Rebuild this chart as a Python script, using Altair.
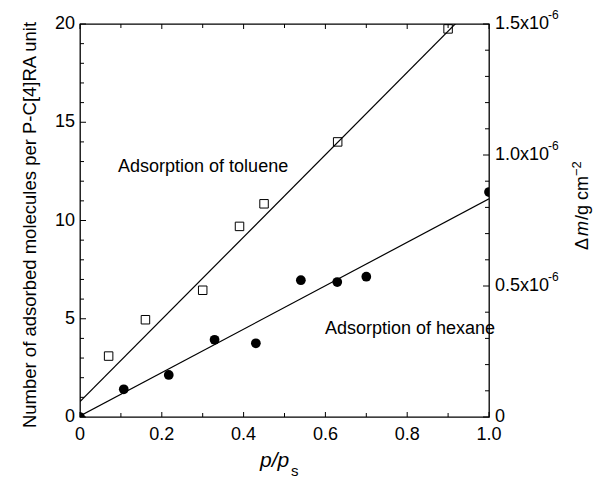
import altair as alt
import pandas as pd

# ---------------- data ----------------
tol_x = [0.07, 0.16, 0.30, 0.39, 0.45, 0.63, 0.90]
tol_y = [3.1, 4.95, 6.45, 9.7, 10.85, 14.0, 19.75]

hex_x = [0.0, 0.107, 0.217, 0.329, 0.430, 0.540, 0.629, 0.700, 1.0]
hex_y = [0.0, 1.41, 2.14, 3.93, 3.75, 6.96, 6.87, 7.14, 11.45]

fit_names = ["toluene", "hexane"]
fit_intercepts = [0.78, 0.05]
fit_slopes = [20.95, 11.05]
fit_x = [0.0, 1.0]

x_major = [0.0, 0.2, 0.4, 0.6, 0.8, 1.0]
x_labels = ["0", "0.2", "0.4", "0.6", "0.8", "1.0"]
x_minor = [0.1, 0.3, 0.5, 0.7, 0.9]
y_major = [0, 5, 10, 15, 20]
y_labels = ["0", "5", "10", "15", "20"]
y_minor = [1, 2, 3, 4, 6, 7, 8, 9, 11, 12, 13, 14, 16, 17, 18, 19]
r_major = [0.0, 0.5e-6, 1.0e-6, 1.5e-6]
r_labels = ["0", "0.5x10", "1.0x10", "1.5x10"]
r_exps = ["", "-6", "-6", "-6"]
r_minor = [0.1e-6, 0.2e-6, 0.3e-6, 0.4e-6, 0.6e-6, 0.7e-6, 0.8e-6, 0.9e-6,
           1.1e-6, 1.2e-6, 1.3e-6, 1.4e-6]

ann_text = ["Adsorption of toluene", "Adsorption of hexane"]
ann_x = [0.093, 0.599]
ann_y = [12.7, 4.5]

left_title = "Number of adsorbed molecules per P-C[4]RA unit"

# ---------------- layout ----------------
W, H = 409, 393
FONT = "Liberation Sans"

xs = alt.Scale(domain=[0, 1], nice=False, zero=False)
ys = alt.Scale(domain=[0, 20], nice=False, zero=False)
rs = alt.Scale(domain=[0, 1.5e-6], nice=False, zero=False)

pts_tol = pd.DataFrame({"x": tol_x, "y": tol_y})
pts_hex = pd.DataFrame({"x": hex_x, "y": hex_y})
fit_rows = []
for name, b, m in zip(fit_names, fit_intercepts, fit_slopes):
    for xv in fit_x:
        fit_rows.append({"series": name, "x": xv, "y": b + m * xv})
fit_df = pd.DataFrame(fit_rows)
ann_df = pd.DataFrame({"t": ann_text, "x": ann_x, "y": ann_y})


def X(field):
    return alt.X(field, scale=xs, axis=None)


def Y(field, scale=ys):
    return alt.Y(field, scale=scale, axis=None)


tol_layer = alt.Chart(pts_tol).mark_point(
    shape="square", size=72, filled=False, color="black", strokeWidth=1, opacity=1, clip=True
).encode(x=X("x:Q"), y=Y("y:Q"))

hex_layer = alt.Chart(pts_hex).mark_circle(
    size=95, color="black", opacity=1, clip=True
).encode(x=X("x:Q"), y=Y("y:Q"))

fit_layer = alt.Chart(fit_df).mark_line(
    color="black", strokeWidth=1.2, clip=True
).encode(x=X("x:Q"), y=Y("y:Q"), detail="series:N")

ann_layer = alt.Chart(ann_df).mark_text(
    align="left", baseline="middle", fontSize=18, font=FONT, color="black"
).encode(x=X("x:Q"), y=Y("y:Q"), text="t:N")


def yticks(values, scale, x0, x1):
    return alt.Chart(pd.DataFrame({"v": values})).mark_rule(
        color="black", strokeWidth=1
    ).encode(y=Y("v:Q", scale), x=alt.value(x0), x2=alt.value(x1))


def xticks(values, y0, y1):
    return alt.Chart(pd.DataFrame({"v": values})).mark_rule(
        color="black", strokeWidth=1
    ).encode(x=X("v:Q"), y=alt.value(y0), y2=alt.value(y1))


def label(text, x, y, size=20, style="normal", angle=0, align="left", baseline="alphabetic"):
    return alt.Chart(pd.DataFrame({"a": [0]})).mark_text(
        fontSize=size, font=FONT, fontStyle=style, color="black", angle=angle,
        align=align, baseline=baseline
    ).encode(x=alt.value(x), y=alt.value(y), text=alt.value(text))


x_tick_labels = alt.Chart(pd.DataFrame({"v": x_major, "t": x_labels})).mark_text(
    fontSize=18, font=FONT, color="black", align="center", baseline="top"
).encode(x=X("v:Q"), y=alt.value(H + 9), text="t:N")

y_tick_labels = alt.Chart(pd.DataFrame({"v": y_major, "t": y_labels})).mark_text(
    fontSize=18, font=FONT, color="black", align="right", baseline="middle"
).encode(y=Y("v:Q"), x=alt.value(-5), text="t:N")

left_group = alt.layer(
    fit_layer, tol_layer, hex_layer, ann_layer,
    yticks(y_major, ys, 0, 6), yticks(y_minor, ys, 0, 4),
    xticks(x_major, H, H - 5), xticks(x_minor, H, H - 4),
    xticks(x_major, 0, 5), xticks(x_minor, 0, 4),
    x_tick_labels, y_tick_labels,
    label(left_title, -50, 201, size=18.5, angle=270, align="center", baseline="middle"),
    label("p/p", 180, 443, size=21, style="italic"),
    label("s", 211, 452, size=15),
    label("Δ", 508, 226, size=18, angle=270),
    label("m", 508, 212, size=18, style="italic", angle=270),
    label("/g cm", 508, 196, size=18, angle=270),
    label("−2", 501, 152, size=13, angle=270),
)

r_df = pd.DataFrame({"v": r_major, "t": r_labels, "e": r_exps})
right_major = alt.Chart(r_df).mark_rule(color="black", strokeWidth=1).encode(
    y=Y("v:Q", rs), x=alt.value(W), x2=alt.value(W - 6))
right_minor = yticks(r_minor, rs, W, W - 4)
right_labels = alt.Chart(r_df).mark_text(
    fontSize=18, font=FONT, color="black", align="left", baseline="middle"
).encode(y=Y("v:Q", rs), x=alt.value(W + 6), text="t:N")
right_exps = alt.Chart(r_df).mark_text(
    fontSize=12, font=FONT, color="black", align="left", baseline="middle", dy=-9
).encode(y=Y("v:Q", rs), x=alt.value(W + 59), text="e:N")

right_group = alt.layer(right_major, right_minor, right_labels, right_exps)

chart = alt.layer(left_group, right_group).resolve_scale(y="independent").properties(
    width=W, height=H,
    autosize=alt.AutoSizeParams(type="none"),
    padding={"left": 80, "top": 24, "right": 105, "bottom": 62},
    background="white",
).configure_view(stroke="black", strokeWidth=1.3)

chart.save("out.html", embed_options={"renderer": "svg", "actions": False})
